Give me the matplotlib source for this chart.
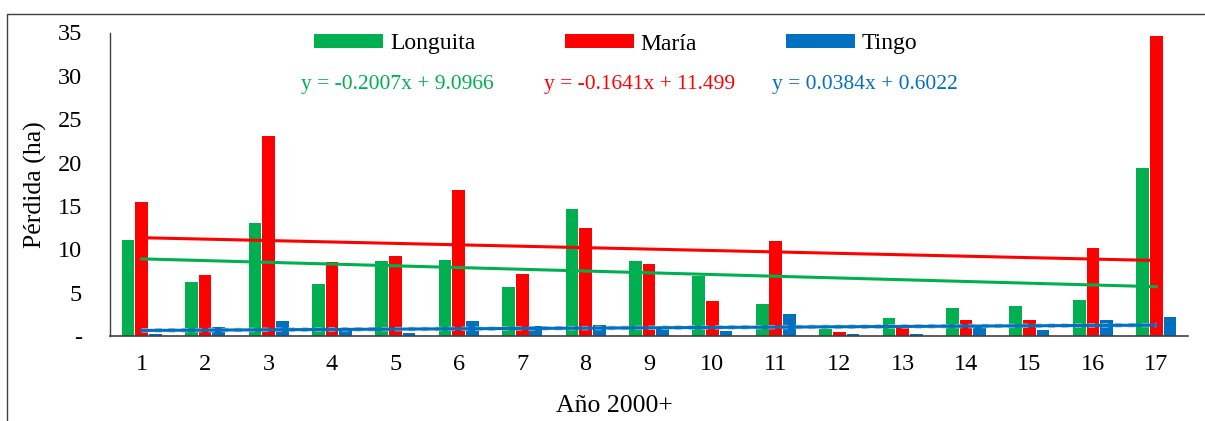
import matplotlib
matplotlib.use("Agg")
import matplotlib.pyplot as plt
import numpy as np
from matplotlib.lines import Line2D
from matplotlib.patches import Patch

plt.rcParams['font.family'] = ['Liberation Serif', 'DejaVu Serif']

years = list(range(1, 18))
series_names = ["Longuita", "María", "Tingo"]
longuita = [11.1, 6.2, 13.0, 6.0, 8.6, 8.8, 5.7, 14.7, 8.6, 6.9, 3.7, 0.8, 2.1, 3.2, 3.5, 4.1, 19.4]
maria = [15.5, 7.0, 23.1, 8.5, 9.2, 16.8, 7.1, 12.4, 8.3, 4.0, 11.0, 0.5, 1.1, 1.8, 1.9, 10.1, 34.6]
tingo = [0.2, 1.0, 1.7, 0.8, 0.4, 1.7, 1.1, 1.3, 0.9, 0.6, 2.5, 0.2, 0.2, 1.2, 0.7, 1.8, 2.2]
slopes = [-0.2007, -0.1641, 0.0384]
intercepts = [9.0966, 11.499, 0.6022]
equations = ["y = -0.2007x + 9.0966", "y = -0.1641x + 11.499", "y = 0.0384x + 0.6022"]
yticks = [0, 5, 10, 15, 20, 25, 30, 35]
ytick_labels = ["-", "5", "10", "15", "20", "25", "30", "35"]

colors = ["#00B050", "#FF0000", "#0070C0"]

W, H = 1205, 421
fig = plt.figure(figsize=(W / 100, H / 100), dpi=100)
ax = fig.add_axes([110 / W, 1 - 336 / H, (1188 - 110) / W, (336 - 32.5) / H])

x = np.array(years, dtype=float)
offsets = [-0.215, 0.0, 0.215]
width = 0.2
for vals, off, c in zip([longuita, maria, tingo], offsets, colors):
    ax.bar(x + off, vals, width=width, color=c, zorder=2)

# trend lines
xt = np.array([years[0], years[-1]], dtype=float)
ax.plot(xt, slopes[2] * xt + intercepts[2], color="#A9BCD6", lw=3.2,
        ls=(0, (1.5, 1.5)), zorder=3, solid_capstyle='butt')
for s, b, c in zip(slopes, intercepts, colors):
    ax.plot(xt, s * xt + b, color=c, lw=2.2, zorder=4)

ax.set_xlim(0.5, 17.5)
ax.set_ylim(0, 35)
ax.set_xticks(x)
ax.set_xticklabels([str(v) for v in years], fontsize=17.5)
ax.set_yticks(yticks)
ax.set_yticklabels(ytick_labels, fontsize=17.5)
ax.tick_params(axis='x', length=0, pad=13)
ax.tick_params(axis='y', length=0, pad=20)
for sp in ["top", "right"]:
    ax.spines[sp].set_visible(False)
ax.spines["left"].set_color("#404040")
ax.spines["bottom"].set_color("#404040")
ax.spines["left"].set_linewidth(1.0)
ax.spines["bottom"].set_linewidth(1.2)

ax.set_ylabel("Pérdida (ha)", fontsize=18.5)
ax.yaxis.set_label_coords((47 - 110) / 1078, 0.5)
fig.text(614 / W, 1 - 406 / H, "Año 2000+", fontsize=18.5, ha='center', va='center')

handles = [Patch(facecolor=c, edgecolor='none') for c in colors]
fig.legend(handles, series_names, loc='center', bbox_to_anchor=(616 / W, 1 - 44 / H),
           ncol=3, frameon=False, fontsize=17, handlelength=2.92, handleheight=0.55,
           handletextpad=0.3, columnspacing=3.77)

eq_x = [301, 544, 772]
for ex, eq, c in zip(eq_x, equations, colors):
    fig.text(ex / W, 1 - 85 / H, eq, color=c, fontsize=15.5, ha='left', va='center')

# outer frame
fig.add_artist(Line2D([7 / W, 7 / W, 1.0], [0.0, 1 - 14 / H, 1 - 14 / H],
                      transform=fig.transFigure, color="#404040", lw=1.0))

fig.savefig("out.png", dpi=100)
